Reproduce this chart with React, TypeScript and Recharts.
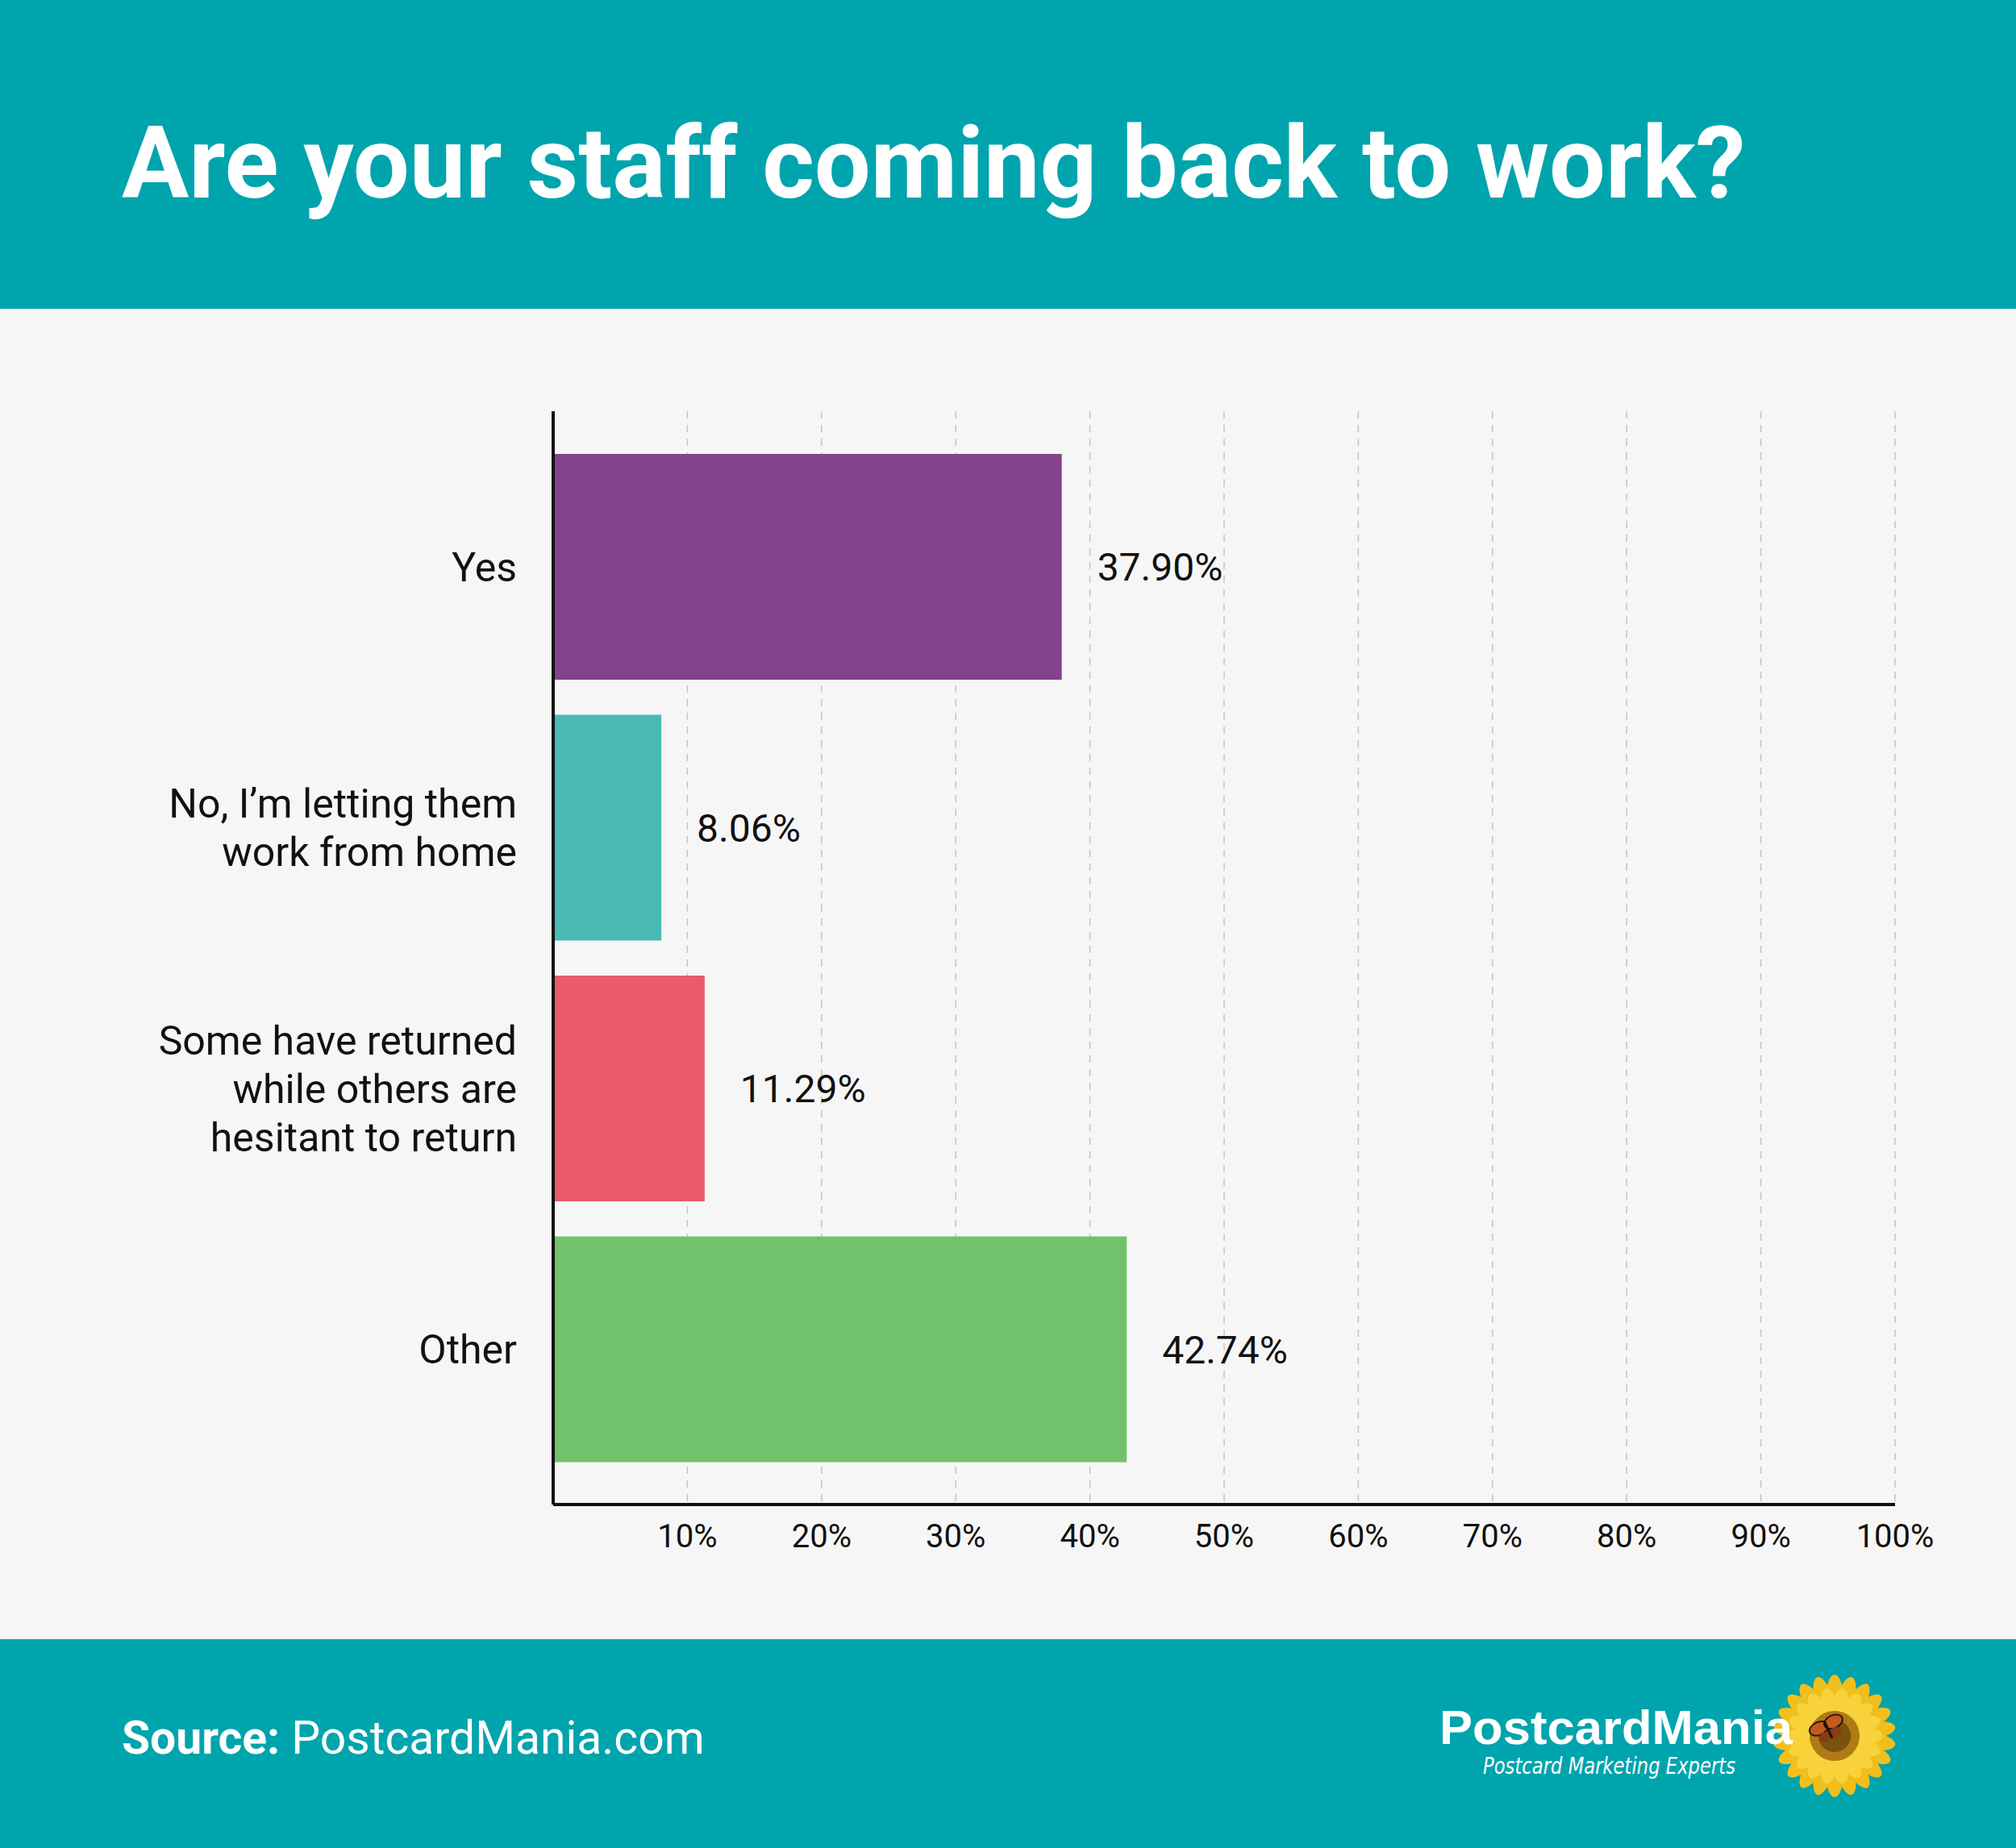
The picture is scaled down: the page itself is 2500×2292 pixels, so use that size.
import { BarChart, Bar, XAxis, YAxis, CartesianGrid, Cell, LabelList } from "recharts";

// survey answers, one bar each
const answers = [
  "Yes",
  "No, I’m letting them\nwork from home",
  "Some have returned\nwhile others are\nhesitant to return",
  "Other",
];
const shares = [37.9, 8.06, 11.29, 42.74];
const barColors = ["#84418C", "#4ABAB4", "#EA5A6C", "#70C36A"];
const percentTicks = [10, 20, 30, 40, 50, 60, 70, 80, 90, 100];

const rows = answers.map((label, i) => ({ label, share: shares[i] }));

const TEAL = "#00A4AD";
const FONT = "Roboto, 'Noto Sans', sans-serif";

function AnswerTick({ x, y, payload }: any) {
  const lines = String(payload.value).split("\n");
  const lineHeight = 60;
  const start = y - ((lines.length - 1) * lineHeight) / 2;
  return (
    <text textAnchor="end" fontSize={50} fill="#111" fontFamily={FONT}>
      {lines.map((line, i) => (
        <tspan key={i} x={x - 45} y={start + i * lineHeight} dy="0.355em">
          {line}
        </tspan>
      ))}
    </text>
  );
}

function PercentTick({ x, y, payload }: any) {
  return (
    <text x={x} y={y + 53} textAnchor="middle" fontSize={40} fill="#111" fontFamily={FONT}>
      {payload.value}%
    </text>
  );
}

function Sunflower({ cx, cy }: { cx: number; cy: number }) {
  const outer = Array.from({ length: 22 }, (_, i) => (i * 360) / 22);
  const inner = Array.from({ length: 18 }, (_, i) => (i * 360) / 18 + 10);
  return (
    <g>
      {outer.map((a) => (
        <ellipse
          key={"o" + a}
          cx={cx}
          cy={cy - 46}
          rx={11}
          ry={30}
          fill="#F2BE1C"
          transform={`rotate(${a} ${cx} ${cy})`}
        />
      ))}
      {inner.map((a) => (
        <ellipse
          key={"i" + a}
          cx={cx}
          cy={cy - 38}
          rx={10}
          ry={22}
          fill="#F7D23A"
          transform={`rotate(${a} ${cx} ${cy})`}
        />
      ))}
      <circle cx={cx} cy={cy} r={31} fill="#B07A16" />
      <circle cx={cx} cy={cy} r={20} fill="#7A5210" />
      {/* butterfly resting on the flower head */}
      <g transform={`translate(${cx - 8} ${cy - 8}) rotate(-25)`}>
        <ellipse cx={-10} cy={-6} rx={12} ry={8} fill="#C45A1E" stroke="#2a1a10" strokeWidth={2} />
        <ellipse cx={10} cy={-6} rx={12} ry={8} fill="#C45A1E" stroke="#2a1a10" strokeWidth={2} />
        <ellipse cx={-7} cy={7} rx={8} ry={6} fill="#8A3A14" />
        <ellipse cx={7} cy={7} rx={8} ry={6} fill="#8A3A14" />
        <rect x={-1.5} y={-12} width={3} height={24} fill="#1c120a" />
      </g>
    </g>
  );
}

export default function App() {
  return (
    <div
      style={{
        position: "absolute",
        left: 0,
        top: 0,
        width: 2500,
        height: 2292,
        background: "#F6F6F6",
        overflow: "hidden",
        fontFamily: FONT,
      }}
    >
      <div style={{ position: "absolute", left: 0, top: 0, width: 2500, height: 383, background: TEAL }} />
      <div style={{ position: "absolute", left: 0, top: 2033, width: 2500, height: 259, background: TEAL }} />

      <svg width={2500} height={2292} style={{ position: "absolute", left: 0, top: 0 }}>
        <text x={151} y={245} fontSize={124} fontWeight={700} fill="#fff" fontFamily={FONT}>
          Are your staff coming back to work?
        </text>
        <text x={151} y={2175} fontSize={57} fill="#fff" fontFamily={FONT}>
          <tspan fontWeight={700}>Source:</tspan>
          <tspan> PostcardMania.com</tspan>
        </text>
        <Sunflower cx={2275} cy={2153} />
        <text
          x={1785}
          y={2163}
          fontSize={60}
          fontWeight={900}
          fill="#fff"
          fontFamily="'Liberation Sans', Arial, sans-serif"
          textLength={438}
          lengthAdjust="spacingAndGlyphs"
        >
          PostcardMania
        </text>
        <text
          x={1839}
          y={2200}
          fontSize={28}
          fontStyle="italic"
          fill="#fff"
          fontFamily="'DejaVu Sans', sans-serif"
          textLength={313}
          lengthAdjust="spacingAndGlyphs"
        >
          Postcard Marketing Experts
        </text>
      </svg>

      <div style={{ position: "absolute", left: 0, top: 0 }}>
        <BarChart
          width={2500}
          height={2292}
          data={rows}
          layout="vertical"
          margin={{ top: 510, right: 150, bottom: 0, left: 0 }}
        >
          <CartesianGrid horizontal={false} stroke="#C4C4C4" strokeDasharray="9 8" strokeWidth={1.5} />
          <XAxis
            type="number"
            domain={[0, 100]}
            ticks={percentTicks}
            height={426}
            tickLine={false}
            tickSize={0}
            tickMargin={0}
            tick={<PercentTick />}
            axisLine={{ stroke: "#111", strokeWidth: 4 }}
          />
          <YAxis
            type="category"
            dataKey="label"
            width={686}
            padding={{ top: 31, bottom: 31 }}
            tickLine={false}
            tickSize={0}
            tickMargin={0}
            tick={<AnswerTick />}
            interval={0}
            axisLine={{ stroke: "#111", strokeWidth: 4 }}
          />
          <Bar dataKey="share" barSize={280} isAnimationActive={false}>
            {rows.map((r, i) => (
              <Cell key={r.label} fill={barColors[i]} />
            ))}
            <LabelList
              dataKey="share"
              position="right"
              offset={44}
              fontSize={48}
              fill="#111"
              fontFamily={FONT}
              formatter={(v: any) => `${Number(v).toFixed(2)}%`}
            />
          </Bar>
        </BarChart>
      </div>
    </div>
  );
}
